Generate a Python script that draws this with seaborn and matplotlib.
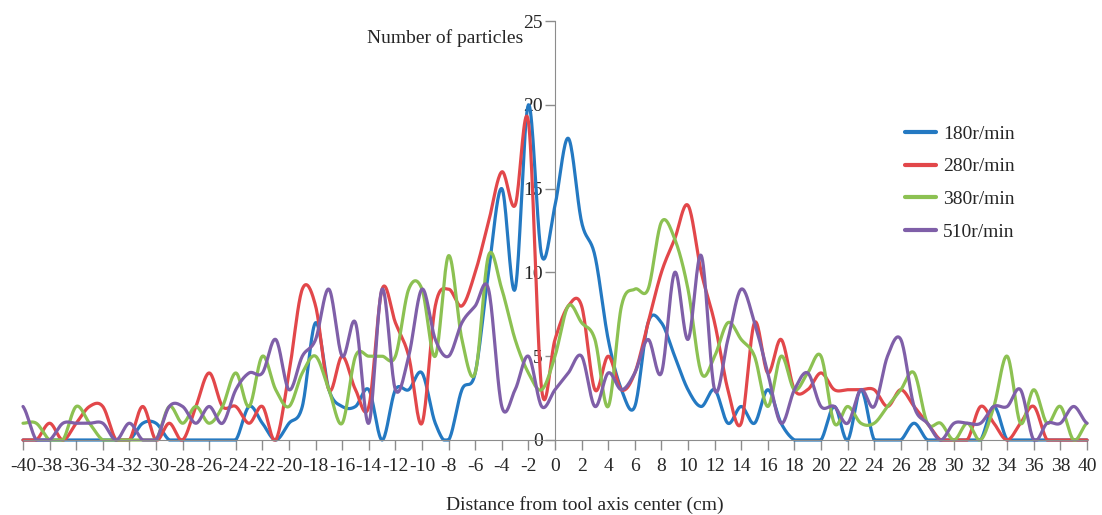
import numpy as np
import pandas as pd
import matplotlib
matplotlib.use("Agg")
import matplotlib.pyplot as plt
import seaborn as sns

# Distance from tool axis center (cm)
distance = list(range(-40, 41))

# Number of particles per spindle speed
rpm_180 = [0, 0, 0, 0, 0, 0, 0, 0, 0, 1, 1, 0, 0, 0, 0, 0, 0, 2, 1, 0,
           1, 2, 7, 3, 2, 2, 3, 0, 3, 3, 4, 1, 0, 3, 4, 10, 15, 9, 20, 11,
           14, 18, 13, 11, 6, 3, 2, 7, 7, 5, 3, 2, 3, 1, 2, 1, 3, 1, 0, 0,
           0, 2, 0, 3, 0, 0, 0, 1, 0, 0, 0, 0, 0, 2, 0, 0, 0, 0, 0, 0, 0]
rpm_280 = [0, 0, 1, 0, 1, 2, 2, 0, 0, 2, 0, 1, 0, 2, 4, 2, 2, 1, 2, 0,
           4, 9, 8, 3, 5, 3, 2, 9, 7, 5, 1, 8, 9, 8, 10, 13, 16, 14, 19, 3,
           6, 8, 8, 3, 5, 3, 4, 7, 10, 12, 14, 10, 7, 3, 1, 7, 4, 6, 3, 3,
           4, 3, 3, 3, 3, 2, 3, 2, 1, 0, 0, 0, 2, 1, 0, 1, 2, 0, 0, 0, 0]
rpm_380 = [1, 1, 0, 0, 2, 1, 0, 0, 0, 0, 0, 2, 1, 2, 1, 2, 4, 2, 5, 3,
           2, 4, 5, 3, 1, 5, 5, 5, 5, 9, 9, 5, 11, 6, 4, 11, 9, 6, 4, 3,
           5, 8, 7, 6, 2, 8, 9, 9, 13, 12, 9, 4, 5, 7, 6, 5, 2, 5, 3, 4,
           5, 1, 2, 1, 1, 2, 3, 4, 1, 1, 0, 1, 0, 2, 5, 1, 3, 1, 2, 0, 1]
rpm_510 = [2, 0, 0, 1, 1, 1, 1, 0, 1, 0, 0, 2, 2, 1, 2, 1, 3, 4, 4, 6,
           3, 5, 6, 9, 5, 7, 1, 9, 3, 5, 9, 6, 5, 7, 8, 9, 2, 3, 5, 2,
           3, 4, 5, 2, 4, 3, 4, 6, 4, 10, 6, 11, 3, 6, 9, 7, 4, 1, 3, 4,
           2, 2, 1, 3, 2, 5, 6, 2, 1, 0, 1, 1, 1, 2, 2, 3, 0, 1, 1, 2, 1]

series_names = ["180r/min", "280r/min", "380r/min", "510r/min"]
colors = ["#2479c2", "#e2474a", "#8cc152", "#7f5fa8"]


def smooth(x, y, n=20):
    # Catmull-Rom style smoothing, like the spreadsheet "smoothed line" option
    x = np.asarray(x, float)
    y = np.asarray(y, float)
    xp = np.concatenate([[2 * x[0] - x[1]], x, [2 * x[-1] - x[-2]]])
    yp = np.concatenate([[y[0]], y, [y[-1]]])
    xs, ys = [], []
    t = np.linspace(0, 1, n, endpoint=False)
    for i in range(1, len(xp) - 2):
        p0, p1, p2, p3 = yp[i - 1], yp[i], yp[i + 1], yp[i + 2]
        seg = 0.5 * ((2 * p1) + (-p0 + p2) * t
                     + (2 * p0 - 5 * p1 + 4 * p2 - p3) * t ** 2
                     + (-p0 + 3 * p1 - 3 * p2 + p3) * t ** 3)
        xs.append(xp[i] + (xp[i + 1] - xp[i]) * t)
        ys.append(seg)
    xs.append([x[-1]])
    ys.append([y[-1]])
    return np.concatenate(xs), np.clip(np.concatenate(ys), 0, None)


frames = []
for name, vals in zip(series_names, [rpm_180, rpm_280, rpm_380, rpm_510]):
    sx, sy = smooth(distance, vals)
    frames.append(pd.DataFrame({"Distance": sx, "Particles": sy, "Speed": name}))
df = pd.concat(frames, ignore_index=True)

sns.set_style("white")
plt.rcParams["font.family"] = ["Liberation Serif", "DejaVu Serif"]
plt.rcParams["axes.unicode_minus"] = False

fig = plt.figure(figsize=(11.02, 5.15), dpi=100)
ax = fig.add_axes([23 / 1102, 75 / 515, 1064 / 1102, 419 / 515])

sns.lineplot(data=df, x="Distance", y="Particles", hue="Speed",
             palette=colors, linewidth=2.3, sort=False, ax=ax,
             estimator=None, clip_on=False)

ax.set_xlim(-40, 40)
ax.set_ylim(0, 25)
ax.set_xticks(range(-40, 41, 2))
ax.set_yticks(range(0, 26, 5))
ax.set_xlabel("")
ax.set_ylabel("")

gray = "#8c8c8c"
for s in ["top", "right"]:
    ax.spines[s].set_visible(False)
ax.spines["left"].set_position(("data", 0))
ax.spines["left"].set_color(gray)
ax.spines["bottom"].set_color(gray)
ax.spines["left"].set_zorder(0.5)
ax.tick_params(axis="x", direction="out", length=7, color=gray, width=1,
               labelsize=14, pad=6, bottom=True)
ax.tick_params(axis="y", direction="out", length=7, color=gray, width=1,
               labelsize=14, pad=2, left=True)

fig.text(523 / 1102, 1 - 38 / 515, "Number of particles", ha="right",
         va="center", fontsize=14)
fig.text(585 / 1102, 1 - 505 / 515, "Distance from tool axis center (cm)",
         ha="center", va="center", fontsize=14)

leg = ax.legend(loc="upper left", bbox_to_anchor=(905 / 1102, 1 - 125 / 515),
                bbox_transform=fig.transFigure, frameon=False, fontsize=14,
                handlelength=1.6, handletextpad=0.35, labelspacing=0.78,
                borderpad=0, borderaxespad=0)
for line in leg.get_lines():
    line.set_linewidth(3)

fig.savefig("out.png", dpi=100)
